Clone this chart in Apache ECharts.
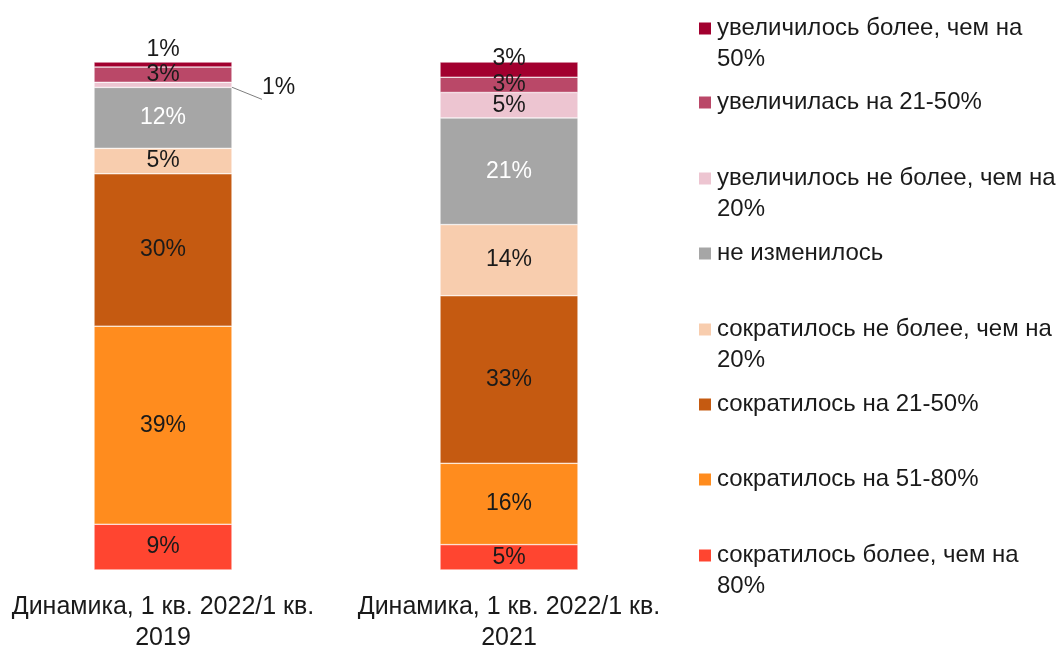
<!DOCTYPE html>
<html>
<head>
<meta charset="utf-8">
<script src="https://cdn.jsdelivr.net/npm/echarts@6/dist/echarts.min.js"></script>
<style>
html,body{margin:0;padding:0;background:#fff;}
#chart{width:1063px;height:646px;}
</style>
</head>
<body>
<div id="chart"></div>
<script>
// Categories (x axis)
const categories = ['Динамика, 1 кв. 2022/1 кв.\n2019', 'Динамика, 1 кв. 2022/1 кв.\n2021'];

// Series names, stacked bottom to top
const seriesNames = [
  'сократилось более, чем на 80%',
  'сократилось на 51-80%',
  'сократилось на 21-50%',
  'сократилось не более, чем на 20%',
  'не изменилось',
  'увеличилось не более, чем на 20%',
  'увеличилась на 21-50%',
  'увеличилось более, чем на 50%'
];

// Legend text as shown (wrapped)
const legendLabels = [
  'сократилось более, чем на\n80%',
  'сократилось на 51-80%',
  'сократилось на 21-50%',
  'сократилось не более, чем на\n20%',
  'не изменилось',
  'увеличилось не более, чем на\n20%',
  'увеличилась на 21-50%',
  'увеличилось более, чем на\n50%'
];

// Values, %, per category [2019, 2021]
const decreasedOver80 = [9, 5];
const decreased51to80 = [39, 16];
const decreased21to50 = [30, 33];
const decreasedUpTo20 = [5, 14];
const unchanged = [12, 21];
const increasedUpTo20 = [1, 5];
const increased21to50 = [3, 3];
const increasedOver50 = [1, 3];

const seriesValues = [decreasedOver80, decreased51to80, decreased21to50, decreasedUpTo20,
  unchanged, increasedUpTo20, increased21to50, increasedOver50];

const colors = ['#FF4530', '#FF8C1E', '#C55A11', '#F8CDAE', '#A6A6A6', '#EDC5D1', '#BA4868', '#A2002F'];
const labelColors = ['#1a1a1a', '#1a1a1a', '#1a1a1a', '#1a1a1a', '#ffffff', '#1a1a1a', '#1a1a1a', '#1a1a1a'];

const FONT = 'Liberation Sans';
const FS = 23;

const series = seriesValues.map((vals, si) => {
  const data = vals.map((v, ci) => {
    const item = { value: v };
    if (si === 7) {
      item.label = { offset: [0, ci === 0 ? -15 : -11] };
    }
    if (si === 5 && ci === 0) {
      item.label = { position: 'right', distance: 30, offset: [0, 3] };
      item.labelLine = { show: true, lineStyle: { color: '#7f7f7f', width: 1 } };
    }
    return item;
  });
  return {
    name: seriesNames[si],
    type: 'bar',
    stack: 'total',
    barWidth: 138,
    data: data,
    itemStyle: { color: colors[si], borderColor: '#ffffff', borderWidth: 0.5 },
    label: {
      show: true,
      position: 'inside',
      formatter: '{c}%',
      color: labelColors[si],
      fontFamily: FONT,
      fontSize: FS
    },
    emphasis: { disabled: true }
  };
});

const legendCenters = [554, 478, 403, 328, 252, 177, 101, 27];
const LH = 31;
const legends = seriesNames.map((name, i) => {
  const twoLine = legendLabels[i].indexOf('\n') >= 0;
  const h = twoLine ? LH * 3 : LH;
  return {
    data: [name],
    orient: 'vertical',
    left: 697,
    top: Math.round(legendCenters[i] - h / 2) + 1,
    padding: 0,
    itemWidth: 14,
    itemHeight: 14,
    itemGap: 0,
    icon: 'rect',
    selectedMode: false,
    formatter: () => (twoLine ? ' \n' : '') + legendLabels[i],
    textStyle: {
      fontFamily: FONT,
      fontSize: 24,
      lineHeight: LH,
      color: '#1a1a1a'
    }
  };
});

const chart = echarts.init(document.getElementById('chart'), null, { renderer: 'canvas' });
chart.setOption({
  animation: false,
  backgroundColor: '#ffffff',
  grid: { left: -10, width: 692, top: 62, bottom: 76, containLabel: false, outerBoundsMode: 'none' },
  legend: legends,
  xAxis: {
    type: 'category',
    data: categories,
    axisLine: { show: false },
    axisTick: { show: false },
    axisLabel: {
      interval: 0,
      margin: 22,
      fontFamily: FONT,
      fontSize: 25,
      lineHeight: 31,
      color: '#1a1a1a'
    }
  },
  yAxis: {
    type: 'value',
    min: 0,
    max: 100,
    show: false
  },
  series: series
});
</script>
</body>
</html>
